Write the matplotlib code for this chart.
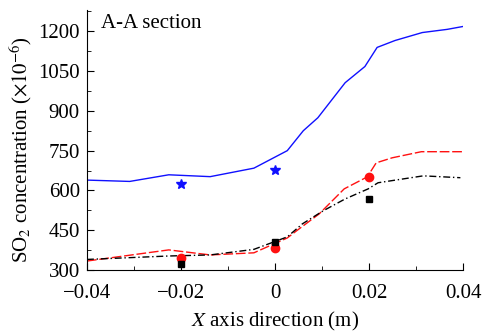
import matplotlib
matplotlib.use('Agg')
import matplotlib.pyplot as plt
from matplotlib.ticker import MultipleLocator

plt.rcParams['font.family'] = ['Liberation Serif', 'DejaVu Serif']
plt.rcParams['mathtext.fontset'] = 'stix'

# blue solid line
blue_x = [-0.04, -0.0309, -0.0226, -0.0138, -0.0045, 0.0026, 0.006,
          0.0091, 0.0149, 0.0191, 0.0217, 0.0255, 0.0313, 0.0366, 0.04]
blue_y = [639, 634, 659, 652, 684, 750, 825, 874, 1006, 1067, 1139,
          1165, 1195, 1207, 1218]

# red dashed line
red_x = [-0.04, -0.0226, -0.0138, -0.0045, 0.0026, 0.0045, 0.0094,
         0.0147, 0.0196, 0.0215, 0.0249, 0.0311, 0.04]
red_y = [334, 376, 357, 365, 421, 447, 512, 606, 651, 704, 723, 746, 746]

# black dash-dot line
black_x = [-0.04, -0.0226, -0.0138, -0.0045, 0.0026, 0.0058, 0.0102, 0.0149,
           0.0198, 0.0219, 0.0315, 0.0394]
black_y = [340, 353, 357, 378, 425, 474, 523, 568, 606, 629, 655, 648]

# measured points
star_x = [-0.02, 0.0]
star_y = [626, 677]
circle_x = [-0.02, 0.0, 0.02]
circle_y = [344, 384, 651]
square_x = [-0.02, 0.0, 0.02]
square_y = [321, 404, 566]

fig = plt.figure(figsize=(4.83, 3.33), dpi=100)
ax = fig.add_axes([0.180, 0.189, 0.779, 0.781])

ax.plot(blue_x, blue_y, color='#1010ff', lw=1.0)
ax.plot(red_x, red_y, color='#ff1010', lw=1.0, dashes=(7, 2))
ax.plot(black_x, black_y, color='black', lw=1.0, dashes=(5, 2, 1, 2))
ax.plot(star_x, star_y, ls='none', marker='*', color='#1010ff', ms=7)
ax.plot(circle_x, circle_y, ls='none', marker='o', color='#ff1010', ms=6)
ax.plot(square_x, square_y, ls='none', marker='s', color='black', ms=5)

ax.set_xlim(-0.04, 0.04)
ax.set_ylim(300, 1280)
ax.xaxis.set_minor_locator(MultipleLocator(0.01))
ax.yaxis.set_major_locator(MultipleLocator(150))
ax.yaxis.set_minor_locator(MultipleLocator(75))
ax.set_xticks([-0.04, -0.02, 0, 0.02, 0.04])
ax.set_xticklabels(['\u22120.04', '\u22120.02', '0', '0.02', '0.04'])

for s in ['top', 'right']:
    ax.spines[s].set_visible(False)
ax.tick_params(which='both', direction='in', labelsize=15)
ax.tick_params(which='major', length=5)
ax.tick_params(which='minor', length=3)
ax.tick_params(axis='x', pad=10)
ax.tick_params(axis='y', pad=5)

ax.set_xlabel('$X$ axis direction (m)', fontsize=15, labelpad=5)
ax.set_ylabel('SO$_2$ concentration ($\\times10^{-6}$)', fontsize=15)
ax.yaxis.set_label_coords(-0.142, 0.465)
ax.text(0.037, 0.985, 'A-A section', transform=ax.transAxes, fontsize=15,
        va='top', ha='left')

fig.savefig('out.png', dpi=100)
